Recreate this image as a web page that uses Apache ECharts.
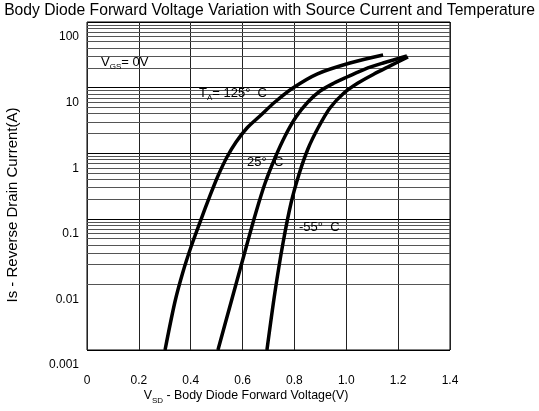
<!DOCTYPE html>
<html>
<head>
<meta charset="utf-8">
<script src="https://cdn.jsdelivr.net/npm/echarts@6/dist/echarts.min.js"></script>
<style>html,body{margin:0;padding:0;background:#fff}#c{width:539px;height:411px}</style>
</head>
<body>
<div id="c"></div>
<script>
// Data
const vsd125 = [0.301, 0.339, 0.370, 0.401, 0.436, 0.474, 0.505, 0.540, 0.575, 0.617, 0.667, 0.725, 0.794, 0.887, 1.014, 1.142];
const is125  = [0.001, 0.00539, 0.01545, 0.0372, 0.0893, 0.223, 0.449, 0.875, 1.48, 2.42, 3.69, 6.03, 9.86, 16.1, 23.7, 31.4];
const vsd25 = [0.505, 0.559, 0.613, 0.652, 0.687, 0.725, 0.764, 0.806, 0.852, 0.899, 0.953, 1.003, 1.072, 1.142, 1.234];
const is25  = [0.001, 0.00599, 0.0359, 0.127, 0.351, 0.845, 1.83, 3.56, 6.03, 8.88, 11.75, 14.5, 19.2, 23.7, 30.3];
const vsdM55 = [0.694, 0.725, 0.756, 0.787, 0.818, 0.852, 0.891, 0.937, 0.991, 1.045, 1.107, 1.169, 1.238];
const isM55  = [0.001, 0.00766, 0.0428, 0.174, 0.482, 1.16, 2.42, 4.89, 8.28, 11.75, 16.1, 21.4, 29.3];
const xTicks = [0, 0.2, 0.4, 0.6, 0.8, 1.0, 1.2, 1.4];
const xTickLabels = ['0', '0.2', '0.4', '0.6', '0.8', '1.0', '1.2', '1.4'];
const yTicks = [0.001, 0.01, 0.1, 1, 10, 100];
const yTickLabels = ['0.001', '0.01', '0.1', '1', '10', '100'];
const decades = [0.001, 0.01, 0.1, 1, 10];
const minorMultipliers = [2, 3, 4, 5, 6, 7, 8, 9];

const zip = (a, b) => a.map((v, i) => [v, b[i]]);
const minorLines = [];
decades.forEach(d => minorMultipliers.forEach(m => minorLines.push({ yAxis: +(d * m).toPrecision(3) })));

const FF = 'Liberation Sans';
const curveStyle = { color: '#000', width: 3.5, cap: 'butt' };
const subRich = {
  n: { fontSize: 13, fontFamily: FF, fill: '#000', verticalAlign: 'top', lineHeight: 15 },
  s: { fontSize: 8, fontFamily: FF, fill: '#000', verticalAlign: 'top', padding: [7, 0, 0, 0], lineHeight: 10 }
};

const chart = echarts.init(document.getElementById('c'), null, { renderer: 'canvas' });
chart.setOption({
  animation: false,
  backgroundColor: '#fff',
  title: {
    text: 'Body Diode Forward Voltage Variation with Source Current and Temperature',
    left: 'center', top: 3, padding: 0,
    textStyle: { fontFamily: FF, fontSize: 15.7, fontWeight: 'normal', color: '#000' }
  },
  grid: { left: 87, right: 89, top: 22, bottom: 61, show: true, borderColor: '#000', borderWidth: 1 },
  xAxis: {
    type: 'value', min: 0, max: 1.4, interval: 0.2,
    axisLine: { show: false }, axisTick: { show: false },
    splitLine: { show: true, lineStyle: { color: '#222', width: 1 } },
    axisLabel: {
      margin: 25, color: '#000', fontFamily: FF, fontSize: 12,
      formatter: v => { const i = xTicks.findIndex(t => Math.abs(t - v) < 1e-6); return i >= 0 ? xTickLabels[i] : ''; }
    }
  },
  yAxis: {
    type: 'log', logBase: 10, min: 0.001, max: 100,
    axisLine: { show: false }, axisTick: { show: false },
    splitLine: { show: true, lineStyle: { color: '#000', width: 1 } },
    axisLabel: {
      margin: 8, color: '#000', fontFamily: FF, fontSize: 12, verticalAlign: 'top', lineHeight: 30,
      formatter: v => { const i = yTicks.findIndex(t => Math.abs(Math.log10(t) - Math.log10(v)) < 1e-6); return i >= 0 ? yTickLabels[i] : ''; }
    }
  },
  series: [
    {
      type: 'line', data: [], silent: true, z: 1,
      markLine: {
        silent: true, symbol: 'none', label: { show: false }, z: 1,
        lineStyle: { color: '#555', width: 1, type: 'solid' },
        data: minorLines
      }
    },
    { type: 'line', z: 5, data: zip(vsd125, is125), smooth: 0.3, showSymbol: false, lineStyle: curveStyle },
    { type: 'line', z: 5, data: zip(vsd25, is25), smooth: 0.3, showSymbol: false, lineStyle: curveStyle },
    { type: 'line', z: 5, data: zip(vsdM55, isM55), smooth: 0.3, showSymbol: false, lineStyle: curveStyle }
  ],
  graphic: [
    {
      type: 'text', x: 13, y: 205, rotation: Math.PI / 2,
      style: { text: 'Is - Reverse Drain Current(A)', fontSize: 15, fontFamily: FF, fill: '#000', align: 'center', verticalAlign: 'middle' }
    },
    {
      type: 'text', x: 246, y: 397,
      style: { text: '{n|V}{s|SD}{n| - Body Diode Forward Voltage(V)}', align: 'center', verticalAlign: 'middle',
        rich: { n: Object.assign({}, subRich.n, { fontSize: 12.4 }), s: subRich.s } }
    },
    {
      type: 'text', x: 101, y: 63, z: 10,
      style: { text: '{n|V}{s|GS}{n|= 0V}', align: 'left', verticalAlign: 'middle', rich: subRich }
    },
    {
      type: 'text', x: 199, y: 94, z: 10,
      style: { text: '{n|T}{s|A}{n|= 125°  C}', align: 'left', verticalAlign: 'middle', rich: subRich }
    },
    { type: 'text', x: 247, y: 162, z: 10, style: { text: '25°  C', fontSize: 13, fontFamily: FF, fill: '#000', align: 'left', verticalAlign: 'middle' } },
    { type: 'text', x: 299, y: 227, z: 10, style: { text: '-55°  C', fontSize: 13, fontFamily: FF, fill: '#000', align: 'left', verticalAlign: 'middle' } }
  ]
});
</script>
</body>
</html>
